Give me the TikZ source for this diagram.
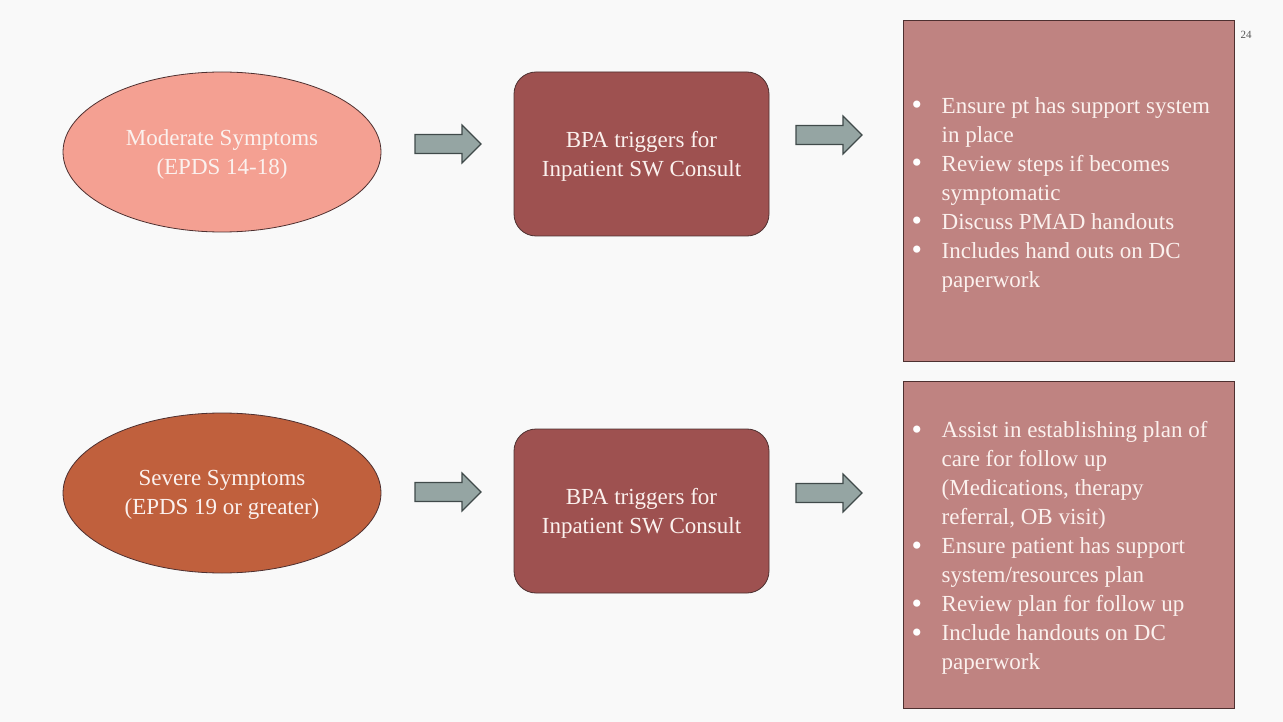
\documentclass[tikz,border=0pt]{standalone}
\usepackage{fontspec}
\setmainfont{Liberation Serif}
\usetikzlibrary{shapes.geometric,calc}

\definecolor{bgcol}{HTML}{F9F9F9}
\definecolor{modfill}{HTML}{F4A092}
\definecolor{sevfill}{HTML}{C0603D}
\definecolor{bpafill}{HTML}{9E5150}
\definecolor{boxfill}{HTML}{BF8381}
\definecolor{arrfill}{HTML}{95A5A3}
\definecolor{arrline}{HTML}{404A4A}
\definecolor{edgecol}{HTML}{4E3030}
\definecolor{txtcol}{HTML}{FBF1EE}
\definecolor{pagecol}{HTML}{555555}

\newcommand{\blockarrow}[1]{%
  \draw[blockarr] ($(#1)+(-33,-9.5)$) -- ($(#1)+(14,-9.5)$) -- ($(#1)+(14,-19)$)
    -- ($(#1)+(33,0)$) -- ($(#1)+(14,19)$) -- ($(#1)+(14,9.5)$)
    -- ($(#1)+(-33,9.5)$) -- cycle;}
\newcommand{\bul}{\textcolor{white}{\smash{\raisebox{-1.5pt}{\scalebox{1.3}{\textbullet}}}}}

\tikzset{
  basefont/.style={font=\fontsize{23}{29}\selectfont, text=txtcol},
  symptom/.style={ellipse, draw=edgecol, line width=0.8pt,
    minimum width=318pt, minimum height=160pt, inner sep=0pt},
  bpabox/.style={rectangle, rounded corners=22pt, draw=edgecol, line width=0.8pt,
    fill=bpafill, minimum width=255pt, minimum height=164pt, inner sep=0pt},
  actbox/.style={rectangle, draw=edgecol, line width=1pt, fill=boxfill,
    minimum width=331pt, inner sep=0pt},
  centertext/.style={basefont, align=center, inner sep=0pt},
  listtext/.style={basefont, anchor=west, inner sep=0pt, align=left},
  blockarr/.style={fill=arrfill, draw=arrline, line width=1.2pt, line join=miter},
}

\begin{document}
\begin{tikzpicture}[x=1pt, y=-1pt]
  \fill[bgcol] (0,0) rectangle (1283,722);
  \useasboundingbox (0,0) rectangle (1283,722);

  % upper row: moderate symptoms
  \node[symptom, fill=modfill] (mod) at (222,152) {};
  \node[centertext] (modtxt) at ($(mod.center)+(0,2)$) {Moderate Symptoms\\(EPDS 14-18)};
  \node[bpabox] (bpa1) at (641.5,154) {};
  \node[centertext] (bpa1txt) at ($(bpa1.center)+(0,2.5)$) {BPA triggers for\\Inpatient SW Consult};
  \node[actbox, minimum height=340pt] (act1) at (1068.5,191) {};
  \node[listtext] (list1) at ($(act1.west)+(9,3.5)$) {%
    \begin{tabular}{@{}p{30pt}@{}l@{}}
      \bul & Ensure pt has support system\\
           & in place\\
      \bul & Review steps if becomes\\
           & symptomatic\\
      \bul & Discuss PMAD handouts\\
      \bul & Includes hand outs on DC\\
           & paperwork
    \end{tabular}};

  % lower row: severe symptoms
  \node[symptom, fill=sevfill] (sev) at (222,493) {};
  \node[centertext] (sevtxt) at ($(sev.center)+(0,2)$) {Severe Symptoms\\(EPDS 19 or greater)};
  \node[bpabox] (bpa2) at (641.5,511) {};
  \node[centertext] (bpa2txt) at ($(bpa2.center)+(0,2.5)$) {BPA triggers for\\Inpatient SW Consult};
  \node[actbox, minimum height=327pt] (act2) at (1068.5,544.5) {};
  \node[listtext] (list2) at ($(act2.west)+(9,3.5)$) {%
    \begin{tabular}{@{}p{30pt}@{}l@{}}
      \bul & Assist in establishing plan of\\
           & care for follow up\\
           & (Medications, therapy\\
           & referral, OB visit)\\
      \bul & Ensure patient has support\\
           & system/resources plan\\
      \bul & Review plan for follow up\\
      \bul & Include handouts on DC\\
           & paperwork
    \end{tabular}};

  % block arrows between the stages
  \coordinate (a1) at (448,144);
  \coordinate (a2) at (829,135);
  \coordinate (a3) at (448,492);
  \coordinate (a4) at (829,493);
  \blockarrow{a1}
  \blockarrow{a2}
  \blockarrow{a3}
  \blockarrow{a4}

  % page number
  \node[font=\fontsize{11}{13}\selectfont, text=pagecol] (page) at (1246,35) {24};
\end{tikzpicture}
\end{document}
